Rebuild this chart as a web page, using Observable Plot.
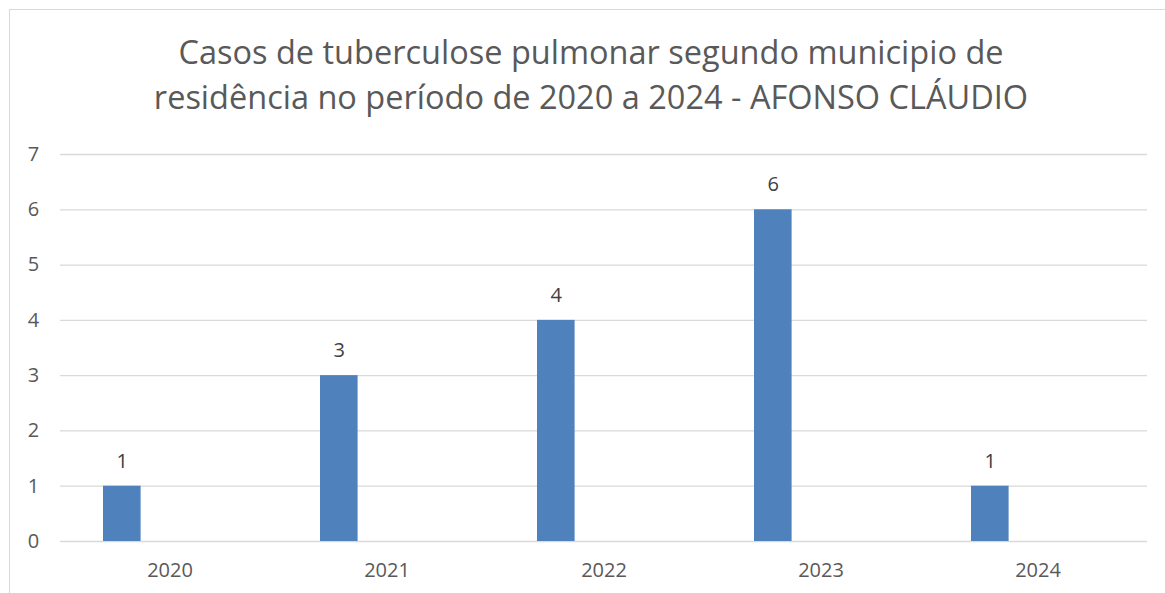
<!DOCTYPE html>
<html>
<head>
<meta charset="utf-8">
<script src="https://cdn.jsdelivr.net/npm/d3@7"></script>
<script src="https://cdn.jsdelivr.net/npm/@observablehq/plot@0.6"></script>
<style>
  html, body { margin: 0; padding: 0; background: #fff; }
  #wrap { position: relative; width: 1165px; height: 593px; overflow: hidden; font-family: "Open Sans", sans-serif; }
  .bt { position: absolute; left: 9px; top: 9px; width: 1156px; height: 0; border-top: 1.5px solid #d9d9d9; }
  .bl { position: absolute; left: 9px; top: 9px; width: 0; height: 584px; border-left: 1.5px solid #d9d9d9; }
  #title { position: absolute; left: 0; top: 29px; width: 1182px; text-align: center; color: #595959; font-size: 32.5px; white-space: nowrap; line-height: 45px; }
  #chart { position: absolute; left: 0; top: 130px; }
</style>
</head>
<body>
<div id="wrap">
  <div class="bt"></div>
  <div class="bl"></div>
  <div id="title"></div>
  <div id="chart"></div>
</div>
<script>
const titleLines = [
  "Casos de tuberculose pulmonar segundo municipio de",
  "residência no período de 2020 a 2024 - AFONSO CLÁUDIO"
];
const years = ["2020", "2021", "2022", "2023", "2024"];
const cases = [1, 3, 4, 6, 1];
const yTicks = [0, 1, 2, 3, 4, 5, 6, 7];

const titleEl = document.getElementById("title");
titleLines.forEach((t, i) => {
  if (i > 0) titleEl.appendChild(document.createElement("br"));
  titleEl.appendChild(document.createTextNode(t));
});

const data = years.map((y, i) => ({year: y, value: cases[i]}));

const W = 1165, H = 463;
const mL = 60, mR = 18;
const band = (W - mL - mR) / years.length;
const barLeft = 42, barW = 38;
const labelDx = barLeft + barW / 2 - band / 2;

const chart = Plot.plot({
  width: W,
  height: H,
  marginLeft: mL,
  marginRight: mR,
  marginTop: 24,
  marginBottom: 52,
  style: { fontFamily: "Open Sans, sans-serif", fontSize: "20px", color: "#595959", background: "transparent" },
  x: { domain: years, padding: 0, label: null },
  y: { domain: [0, 7], label: null },
  marks: [
    Plot.ruleY(yTicks, { stroke: "#d9d9d9", strokeWidth: 1.3 }),
    Plot.barY(data, {
      x: "year", y: "value", fill: "#4f81bd",
      insetLeft: barLeft, insetRight: band - barLeft - barW
    }),
    Plot.text(data, {
      x: "year", y: "value", text: d => String(d.value),
      dx: labelDx, dy: -25, fill: "#404040", fontSize: 20
    }),
    Plot.axisY(yTicks, { tickSize: 0, tickPadding: 0, dx: -27, textAnchor: "middle", tickFormat: "d", fontSize: 20, fill: "#595959" }),
    Plot.axisX({ tickSize: 0, tickPadding: 21, fontSize: 20, fill: "#595959" })
  ]
});
document.getElementById("chart").appendChild(chart);
</script>
</body>
</html>
